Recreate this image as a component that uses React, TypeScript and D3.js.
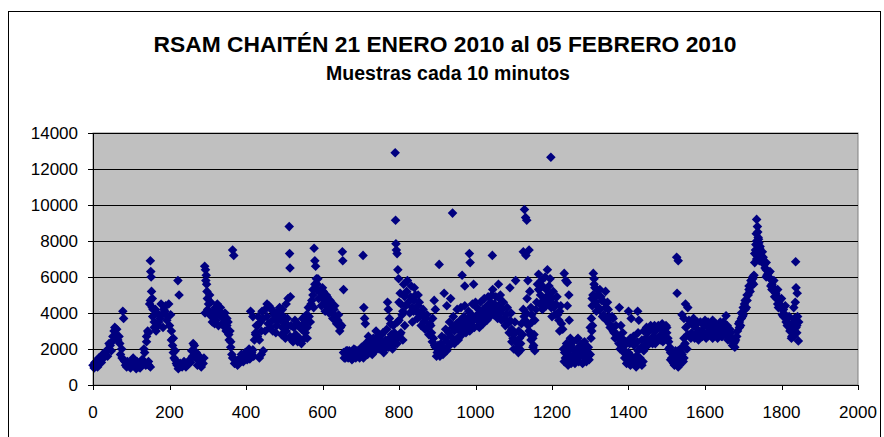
import * as d3 from 'd3';

// RSAM samples every 10 minutes, every 5th sample
const sampleStep = 5;
const rsam = [
  // 0 - 95
  1100, 1250, 1300, 1500, 1450, 1700, 1650, 1900, 2000, 2200, 2400, 3000, 2800, 2500, 2300, 2000, 1400, 1100, 1300, 1100,
  // 100 - 195
  1200, 1500, 1050, 1300, 1000, 1150, 1400, 1800, 2400, 2900, 4700, 4300, 3500, 3000, 3300, 3700, 3900, 4200, 4400, 3800,
  // 200 - 295
  3300, 2500, 1800, 1400, 1100, 1000, 1050, 1100, 1200, 1150, 1300, 1250, 1600, 2200, 1800, 1400, 1300, 1200, 1500, 5800,
  // 300 - 395
  4200, 3900, 4000, 3700, 4300, 4500, 4100, 3800, 3900, 3500, 3300, 2800, 2400, 1500, 1200, 1300, 1400, 1500, 1350, 1600,
  // 400 - 495
  1500, 1700, 1450, 1800, 1600, 2800, 3300, 2500, 3000, 3700, 4200, 3800, 4400, 3500, 4100, 3700, 3300, 3900, 3600, 3200,
  // 500 - 595
  3500, 3000, 3300, 2700, 2500, 3200, 2800, 3400, 2600, 3100, 3400, 2900, 3200, 3800, 4500, 5000, 5600, 5300, 4800, 5100,
  // 600 - 695
  4800, 4500, 4700, 4300, 4400, 4000, 4200, 3800, 3600, 3400, 3300, 1800, 1700, 1900, 1600, 1800, 1700, 1950, 1600, 1800,
  // 700 - 795
  1900, 1700, 2000, 1800, 2100, 1900, 2200, 2000, 2300, 2100, 2400, 2200, 2100, 2500, 2300, 2600, 2400, 2200, 2500, 2700,
  // 800 - 895
  3600, 4500, 4100, 4900, 5200, 4600, 4900, 4300, 4700, 4100, 4400, 3800, 4000, 3500, 3700, 3200, 3400, 2900, 2600, 2100,
  // 900 - 995
  1800, 1900, 2300, 2100, 2600, 2400, 2900, 2700, 3200, 3000, 3400, 3100, 3600, 3300, 3800, 3500, 3700, 3400, 3900, 3600,
  // 1000 - 1095
  3800, 3600, 4000, 3700, 4200, 3900, 4400, 4100, 4600, 4300, 4500, 4200, 4400, 4000, 4200, 3700, 3900, 3400, 3600, 3100,
  // 1100 - 1195
  2800, 2400, 2100, 2600, 3400, 4200, 3600, 4800, 3000, 2500, 2100, 3600, 4600, 5300, 5000, 5500, 4800, 5300, 5000, 4600,
  // 1200 - 1295
  4800, 4300, 4500, 3900, 4100, 3400, 2000, 1500, 1800, 1300, 2200, 1600, 1900, 1400, 2100, 1700, 2300, 1500, 1900, 1600,
  // 1300 - 1395
  3200, 4800, 5600, 4600, 5000, 4200, 4700, 3900, 4300, 3600, 3800, 3200, 3000, 2600, 2800, 2300, 2500, 2000, 2200, 1700,
  // 1400 - 1495
  1400, 2600, 1200, 2200, 1600, 2900, 1300, 2500, 3000, 2600, 2900, 2500, 3100, 2700, 3000, 2600, 3200, 2800, 3100, 2700,
  // 1500 - 1595
  2900, 2400, 1800, 1300, 1600, 1200, 1900, 1500, 2100, 2600, 3200, 2800, 3400, 2900, 3300, 2800, 3100, 2700, 3000, 2800,
  // 1600 - 1695
  3300, 2900, 3200, 3400, 3000, 3300, 2800, 3100, 3200, 2900, 3300, 3000, 2800, 3100, 2600, 2300, 2500, 3000, 3500, 4000,
  // 1700 - 1795
  4300, 4700, 5000, 5500, 5800, 6000, 7300, 8000, 7600, 7400, 7000, 6700, 6400, 6200, 5900, 5600, 5400, 5100, 4900, 4700,
  // 1800 - 1840
  4400, 4200, 3900, 3700, 3400, 3100, 2900, 3600, 3300,
];

// the in-between samples that give each cluster its width: [sample, RSAM]
const bandSpread = [
  [3, 950], [8, 1200], [12, 1000], [18, 1400], [22, 1250], [28, 1500], [33, 1800], [38, 1600],
  [42, 2300], [48, 1900], [52, 2700], [57, 3200], [62, 3100], [68, 2700], [72, 1700], [76, 1500],
  [83, 1300], [88, 1000], [93, 1100], [98, 950], [103, 1300], [108, 1100], [113, 900], [118, 1200],
  [123, 950], [128, 1400], [133, 2000], [140, 2700], [143, 3000], [146, 1100], [156, 3800], [160, 3200],
  [163, 4200], [168, 4000], [172, 3500], [178, 4500], [183, 3200], [188, 4100], [193, 3600], [198, 4500],
  [203, 3900], [208, 2200], [212, 1500], [218, 1200], [223, 900], [228, 1200], [233, 1000], [238, 1300],
  [243, 1000], [248, 1150], [253, 1400], [258, 1900], [262, 2300], [268, 1500], [273, 1100], [278, 1600],
  [283, 1000], [288, 1200],
  [302, 4500], [305, 5000], [308, 4600], [315, 4100], [318, 3400], [325, 3900], [328, 3300], [333, 4300],
  [340, 3300], [343, 3700], [348, 3000], [353, 3500], [356, 2500], [360, 2100], [363, 1700],
  [372, 1400], [378, 1100], [383, 1300], [388, 1700], [393, 1300], [398, 1800], [403, 1400], [408, 2000],
  [413, 1600], [418, 1950], [422, 2500], [427, 3300], [432, 3800], [438, 3500], [442, 4100],
  [455, 4500], [458, 3400], [463, 3200], [468, 4200], [473, 3900], [478, 2900], [483, 3600], [488, 4300],
  [493, 2800], [498, 3800], [503, 2600], [508, 3700], [518, 3300], [523, 2400], [528, 3600], [533, 2700],
  [538, 3300], [543, 2400], [548, 3700], [553, 2600], [558, 3900], [563, 4300], [568, 3500], [572, 4700],
  [577, 4300],
  [588, 5900], [592, 5200], [597, 4400], [602, 5200], [607, 4100], [612, 4900], [617, 4000], [622, 4600],
  [627, 3700], [632, 4400], [637, 3400], [642, 3900], [647, 3200],
  [657, 1500], [662, 1900], [667, 1500], [672, 1750], [677, 1400], [682, 2000], [687, 1500], [692, 1700],
  [697, 1500], [702, 2100], [707, 1500], [713, 2300], [718, 1700], [723, 2500], [728, 1800], [733, 2600],
  [738, 1900], [743, 2700], [748, 2000], [753, 2500], [758, 2900], [763, 2000], [768, 3100], [773, 2100],
  [778, 3400], [783, 2000], [788, 2900], [796, 3500],
  [802, 2800], [808, 3900], [812, 5600], [818, 4400], [822, 5800], [828, 4000], [832, 5500], [838, 4100],
  [843, 5000], [848, 3700], [853, 4600], [858, 3300], [863, 4200], [868, 3100], [873, 3900], [878, 2800],
  [883, 3300], [887, 2400], [893, 2200], [898, 1600],
  [902, 2200], [907, 1600], [912, 2700], [917, 2000], [922, 3100], [927, 2100], [932, 3500], [937, 2300],
  [942, 3800], [947, 2500], [952, 4200], [957, 2700], [962, 4300], [967, 3000], [972, 4400], [977, 3100],
  [982, 4100], [987, 3300], [992, 4500], [997, 3200],
  [1003, 4300], [1008, 3300], [1013, 4600], [1018, 3500], [1023, 4800], [1028, 3600], [1033, 4900], [1038, 3800],
  [1043, 5000], [1048, 3900], [1053, 4900], [1058, 3700], [1063, 4800], [1068, 3600], [1073, 4600], [1078, 3300],
  [1083, 4300], [1088, 2900], [1093, 4000], [1098, 2600], [1103, 3500], [1108, 2000], [1113, 3000], [1118, 2300],
  [1123, 2800], [1127, 3800],
  [1133, 4000], [1138, 3300], [1143, 2800], [1147, 3900], [1153, 2800], [1158, 4200], [1162, 5600], [1168, 4500],
  [1172, 5800], [1178, 4700], [1182, 6000], [1187, 4800], [1192, 5500], [1198, 4300], [1203, 5200], [1208, 3900],
  [1213, 4900], [1218, 3600], [1223, 4400], [1228, 3100],
  [1233, 1800], [1237, 1500], [1243, 1700], [1247, 2000], [1252, 1500], [1258, 1900], [1262, 1700], [1267, 1800],
  [1272, 1600], [1277, 1900], [1282, 1700], [1287, 2000], [1292, 1600], [1297, 1400], [1248, 2600], [1268, 2600],
  [1288, 2200],
  [1303, 3700], [1307, 5000], [1313, 4900], [1316, 4100], [1318, 5300], [1322, 4300], [1328, 4900], [1332, 3800],
  [1337, 4600], [1342, 3600], [1347, 4200], [1352, 3200], [1357, 3800], [1362, 2900], [1367, 3300],
  [1372, 2700], [1378, 2000], [1383, 2600], [1388, 1800], [1393, 2400], [1398, 1500], [1403, 2300], [1408, 1600],
  [1413, 2700], [1418, 1400], [1423, 2400], [1428, 1200], [1433, 2100], [1438, 1300], [1443, 2200], [1447, 3200],
  [1453, 2300], [1458, 3300],
  [1463, 2300], [1468, 3300], [1473, 2400], [1478, 3300], [1483, 2500], [1488, 3400], [1493, 2500], [1498, 3300],
  [1503, 2600], [1508, 2100], [1513, 1500], [1518, 1200], [1523, 1900], [1528, 1600], [1533, 1100], [1538, 1800],
  [1543, 1300], [1548, 2300], [1553, 2000], [1558, 3600],
  [1563, 2600], [1568, 3500], [1573, 2600], [1578, 3400], [1583, 2500], [1588, 3500], [1593, 2700], [1598, 3300],
  [1603, 2600], [1608, 3500], [1613, 2800], [1618, 3300], [1623, 2800], [1628, 3400], [1633, 2600], [1638, 3300],
  [1643, 2700], [1648, 3500], [1653, 2800], [1658, 3300], [1663, 2700], [1668, 2900], [1673, 2500], [1678, 2400],
  [1683, 2700], [1688, 3400],
  [1693, 3300], [1698, 3800], [1703, 4500], [1708, 4300], [1713, 5000], [1718, 5200], [1723, 5700], [1727, 5600],
  [1730, 6800], [1732, 7500], [1734, 8400], [1738, 7300], [1740, 8100], [1744, 7700], [1747, 7200],
  [1752, 7100], [1757, 6500], [1762, 6100], [1767, 6000], [1772, 5500], [1777, 5400], [1782, 4900], [1787, 4800],
  [1792, 4300], [1797, 4300], [1802, 3900], [1807, 3900], [1812, 3500], [1817, 3400], [1822, 3200], [1827, 2700],
  [1832, 2700], [1838, 3200],
];

// scattered spikes and isolated samples: [sample, RSAM]
const extraPoints = [
  [78, 4100], [80, 3700],
  [150, 6900], [151, 6300], [152, 6000], [153, 5200], [155, 4800], [148, 4500], [157, 4200],
  [130, 1200], [138, 1100], [145, 1300], [150, 1000],
  [222, 5800], [225, 5000], [210, 2600], [205, 3000], [215, 1900],
  [292, 6600], [294, 6400], [296, 6100], [297, 5600], [298, 5200], [299, 4800], [293, 4000],
  [365, 7500], [368, 7200],
  [312, 3500], [322, 3600], [338, 3400], [345, 4000], [350, 3700], [358, 3000],
  [412, 4100], [418, 3800], [425, 2900], [430, 2700], [440, 1700], [435, 1500], [445, 1900],
  [450, 3000], [470, 3000], [480, 4000], [495, 4200], [505, 4500], [510, 4800],
  [513, 8800], [514, 7300], [515, 6500], [516, 4900],
  [535, 2400], [545, 2300], [560, 2600], [555, 3600],
  [578, 7600], [580, 6900], [582, 6600], [584, 5900], [586, 5600], [575, 5300],
  [600, 5400], [610, 5000], [620, 4700], [630, 3700], [645, 3000],
  [652, 7400], [653, 6900], [655, 5300],
  [660, 1500], [670, 1900], [680, 1500], [690, 1900], [700, 1600],
  [706, 7200], [708, 4300], [710, 3700], [712, 3400], [720, 2700], [740, 3000], [755, 2800],
  [770, 4600], [772, 4200], [775, 3700], [785, 3300], [780, 2800], [760, 1800], [730, 1700], [795, 2300],
  [790, 12900], [791, 9150], [792, 7850], [793, 7500], [795, 7300], [797, 6400], [799, 5900], [800, 4600], [803, 5100],
  [805, 2900], [810, 2500], [815, 3300], [840, 5400], [850, 5000], [835, 3500],
  [888, 3700], [892, 4700], [895, 4200], [905, 6700],
  [918, 5100], [925, 4400], [940, 9550], [935, 4800],
  [915, 1700], [925, 1900], [945, 2300], [955, 2500], [965, 2800], [975, 2900], [985, 3000],
  [965, 6100], [972, 5500], [995, 5600], [984, 7300], [986, 6800],
  [1000, 4600], [1010, 3200], [1020, 3400], [1030, 3600], [1044, 7200], [1045, 5300],
  [1060, 5600], [1065, 5000], [1090, 5400], [1105, 5800],
  [1100, 2000], [1112, 1800], [1118, 1950], [1095, 2400],
  [1128, 9750], [1131, 9300], [1134, 9150], [1125, 7400], [1132, 7200], [1140, 7500], [1137, 5800],
  [1142, 5200], [1145, 4300], [1148, 3500], [1150, 2600], [1152, 2200], [1155, 1900],
  [1165, 6150], [1188, 6400], [1197, 12650], [1175, 4200], [1185, 4400], [1200, 3800], [1195, 5900],
  [1232, 6200], [1236, 5800], [1240, 5700], [1244, 5000], [1240, 4400], [1245, 3600], [1220, 3000],
  [1232, 1300], [1238, 2300], [1242, 1100], [1250, 1200], [1255, 2400], [1260, 1200], [1265, 2500],
  [1270, 1300], [1275, 2200], [1280, 1200], [1285, 2400], [1290, 1300], [1295, 2100], [1300, 1700],
  [1302, 2600], [1304, 3000], [1306, 3300], [1308, 6200], [1310, 5900], [1312, 5400], [1305, 4400],
  [1325, 5300], [1340, 5200], [1345, 4600], [1350, 3400], [1360, 3700],
  [1376, 4300], [1380, 3300], [1385, 2900], [1390, 1500], [1395, 1200], [1400, 1800], [1405, 1100],
  [1410, 2400], [1415, 1300], [1420, 1000], [1425, 1900], [1430, 1500], [1435, 1100], [1440, 1900],
  [1400, 4100], [1407, 3700], [1424, 4100], [1427, 3600],
  [1450, 2200], [1470, 2300], [1490, 2400],
  [1500, 3200], [1505, 2000], [1510, 1400], [1515, 1800], [1520, 1100], [1525, 1400], [1530, 1000],
  [1535, 1200], [1540, 1700], [1545, 1500],
  [1526, 7100], [1530, 6900], [1527, 5100], [1549, 4500], [1555, 4300], [1545, 3700], [1540, 3900],
  [1570, 3700], [1580, 3500], [1600, 3600], [1620, 3600], [1640, 3500], [1655, 3850],
  [1645, 2700], [1620, 2600], [1660, 2500], [1672, 2200], [1678, 2100],
  [1690, 3200], [1695, 3700], [1700, 3900], [1705, 4200], [1710, 4700], [1715, 5300], [1720, 5500],
  [1725, 5900], [1728, 6100],
  [1735, 9200], [1737, 8800], [1738, 8500], [1739, 8200], [1733, 7800], [1741, 7900], [1743, 7600],
  [1736, 7200], [1745, 7000], [1742, 6900], [1735, 7000],
  [1750, 7400], [1760, 6800], [1770, 6300], [1780, 5800], [1790, 5300], [1800, 4800], [1810, 4400],
  [1820, 3800], [1830, 3400], [1760, 6000], [1775, 5300], [1790, 4500], [1805, 3800], [1815, 3300],
  [1822, 3000], [1826, 2600],
  [1837, 6850], [1838, 5400], [1841, 5100], [1836, 4600], [1844, 2450], [1842, 3800], [1845, 3500],
  [1840, 2900], [1832, 4300], [1834, 3700],
];

const xTicks = [0, 200, 400, 600, 800, 1000, 1200, 1400, 1600, 1800, 2000];
const yTicks = [0, 2000, 4000, 6000, 8000, 10000, 12000, 14000];

const titleLine1 = 'RSAM CHAITÉN 21 ENERO 2010 al 05 FEBRERO 2010';
const titleLine2 = 'Muestras cada 10 minutos';

const width = 884;
const height = 437;
const font = 'Arial, "Liberation Sans", sans-serif';

export default function App() {
  const x = d3.scaleLinear().domain([0, 2000]).range([93, 858]);
  const y = d3.scaleLinear().domain([0, 14000]).range([385, 133]);

  const points = [
    ...rsam.map((v, i) => [i * sampleStep, v]),
    ...bandSpread,
    ...extraPoints,
  ];

  // Excel's diamond marker: a square turned 45 degrees
  const diamond = d3.symbol().type(d3.symbolSquare).size(46)();

  return (
    <div style={{ position: 'absolute', left: 0, top: 0 }}>
      <svg width={width} height={height} style={{ display: 'block', background: '#fff' }}>
        <rect x={8.5} y={11.5} width={872} height={450} fill="#fff" stroke="#000" />

        <text x={445} y={52} textAnchor="middle" fontFamily={font} fontWeight="bold" fontSize={22.8}>
          {titleLine1}
        </text>
        <text x={448} y={80} textAnchor="middle" fontFamily={font} fontWeight="bold" fontSize={19.5}>
          {titleLine2}
        </text>

        {/* plot area */}
        <rect
          x={x(0)}
          y={y(14000)}
          width={x(2000) - x(0)}
          height={y(0) - y(14000)}
          fill="#C0C0C0"
          stroke="#808080"
        />
        {yTicks.map((t) => (
          <line
            key={'g' + t}
            x1={x(0)}
            x2={x(2000)}
            y1={Math.round(y(t)) + 0.5}
            y2={Math.round(y(t)) + 0.5}
            stroke="#000"
          />
        ))}

        {points.map(([i, v], k) => (
          <path
            key={k}
            d={diamond}
            transform={`translate(${x(i)},${y(v)}) rotate(45)`}
            fill="#000080"
          />
        ))}

        {/* axes */}
        <line x1={x(0) + 0.5} x2={x(0) + 0.5} y1={y(14000)} y2={y(0)} stroke="#000" />
        <line x1={x(0)} x2={x(2000)} y1={Math.round(y(0)) + 0.5} y2={Math.round(y(0)) + 0.5} stroke="#000" />
        {yTicks.map((t) => (
          <g key={'y' + t}>
            <line
              x1={x(0) - 5}
              x2={x(0)}
              y1={Math.round(y(t)) + 0.5}
              y2={Math.round(y(t)) + 0.5}
              stroke="#000"
            />
            <text
              x={78}
              y={y(t)}
              textAnchor="end"
              dominantBaseline="central"
              fontFamily={font}
              fontSize={17}
            >
              {t}
            </text>
          </g>
        ))}
        {xTicks.map((t) => (
          <g key={'x' + t}>
            <line
              x1={Math.round(x(t)) + 0.5}
              x2={Math.round(x(t)) + 0.5}
              y1={y(0)}
              y2={y(0) + 5}
              stroke="#000"
            />
            <text x={x(t)} y={418} textAnchor="middle" fontFamily={font} fontSize={17}>
              {t}
            </text>
          </g>
        ))}
      </svg>
    </div>
  );
}
